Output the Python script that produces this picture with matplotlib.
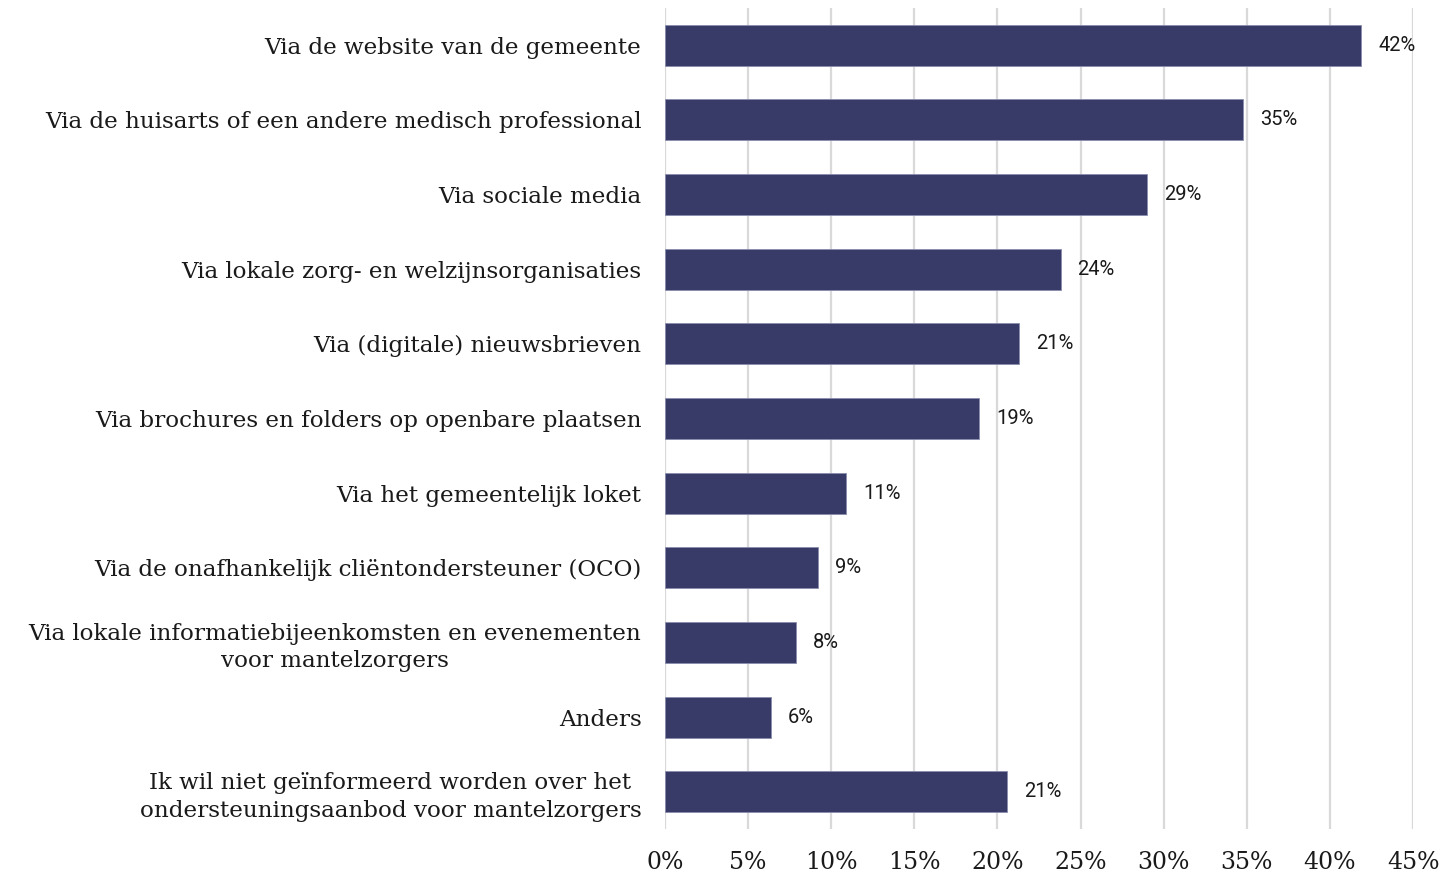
import matplotlib
matplotlib.use("Agg")
import matplotlib.pyplot as plt
from matplotlib.ticker import FuncFormatter

categories = [
    "Via de website van de gemeente",
    "Via de huisarts of een andere medisch professional",
    "Via sociale media",
    "Via lokale zorg- en welzijnsorganisaties",
    "Via (digitale) nieuwsbrieven",
    "Via brochures en folders op openbare plaatsen",
    "Via het gemeentelijk loket",
    "Via de onafhankelijk cliëntondersteuner (OCO)",
    "Via lokale informatiebijeenkomsten en evenementen\nvoor mantelzorgers",
    "Anders",
    "Ik wil niet geïnformeerd worden over het\nondersteuningsaanbod voor mantelzorgers",
]
values = [41.9, 34.8, 29.0, 23.8, 21.3, 18.9, 10.9, 9.2, 7.9, 6.4, 20.6]
value_labels = ["42%", "35%", "29%", "24%", "21%", "19%", "11%", "9%", "8%", "6%", "21%"]
xticks = [0, 5, 10, 15, 20, 25, 30, 35, 40, 45]

W, H = 1443, 874
fig = plt.figure(figsize=(W / 100, H / 100), dpi=100)
ax = fig.add_axes([665 / W, 1 - 829 / H, (1413 - 665) / W, (829 - 8) / H])

bar_color = "#383B67"
y = list(range(len(categories)))
ax.barh(y, values, height=0.55, color=bar_color, edgecolor="#8a8cae", linewidth=0.6, zorder=3)

for yi, v, lab in zip(y, values, value_labels):
    ax.annotate(lab, xy=(v, yi), xytext=(12, 0), textcoords="offset points",
                ha="left", va="center", fontsize=14.5, family="Roboto", color="#1a1a1a")

ax.set_xlim(0, 45)
ax.set_ylim(len(categories) - 0.5, -0.5)
ax.set_xticks(xticks)
ax.xaxis.set_major_formatter(FuncFormatter(lambda v, p: f"{int(v)}%"))
ax.set_yticks(y)
ax.set_yticklabels(categories, family="DejaVu Serif", fontsize=16.6, color="#1a1a1a",
                   multialignment="center", linespacing=1.32)
for t in ax.get_xticklabels():
    t.set_family("DejaVu Serif")
    t.set_fontsize(17)
    t.set_color("#1a1a1a")

ax.tick_params(axis="y", length=0, pad=17)
ax.tick_params(axis="x", length=0, pad=16)
ax.grid(axis="x", color="#d9d9d9", linewidth=1.6, zorder=0)
ax.set_axisbelow(True)
for s in ax.spines.values():
    s.set_visible(False)

fig.savefig("out.png", dpi=100, facecolor="white")
